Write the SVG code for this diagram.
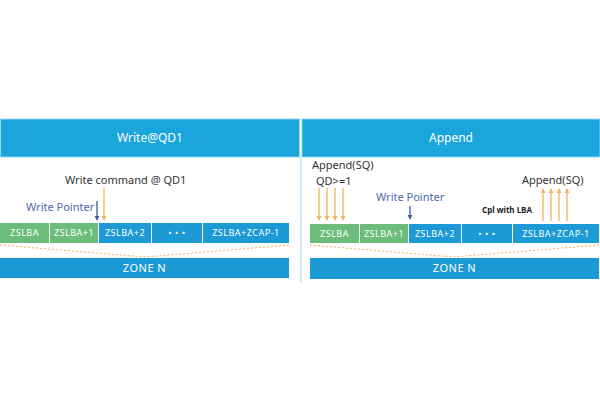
<svg xmlns="http://www.w3.org/2000/svg" width="600" height="400" viewBox="0 0 600 400">
<defs>
<style>
.hdr{fill:#1aa5dc;stroke:#8fd6ef;stroke-width:1}
.ht{font-family:"Noto Sans",sans-serif;font-size:12px;fill:#ffffff;text-anchor:middle}
.g{fill:#6cbd7c}
.b{fill:#1b9ad6}
.bt{font-family:"Noto Sans",sans-serif;font-size:9px;fill:#ffffff;text-anchor:middle;letter-spacing:0.5px}
.zt{font-family:"Noto Sans",sans-serif;font-size:11px;fill:#ffffff;text-anchor:middle;letter-spacing:0.5px}
.lbl{font-family:"Noto Sans",sans-serif;font-size:11px;fill:#333333}
.wp{font-family:"Noto Sans",sans-serif;font-size:11px;fill:#4a6aae}
.cpl{font-family:"Noto Sans",sans-serif;font-size:8px;font-weight:bold;fill:#222222}
.oa{stroke:#f0b45a;stroke-width:1.3;fill:none}
.ba{stroke:#3d5e9e;stroke-width:1.3;fill:none}
.dot{stroke:#f0b45a;stroke-width:1;stroke-dasharray:2 2;fill:none}
.sep{stroke:#bfe3f0;stroke-width:1.5}
</style>
<marker id="mo" viewBox="0 0 6 6" refX="5" refY="3" markerWidth="4" markerHeight="4" orient="auto"><path d="M0,0 L6,3 L0,6 z" fill="#f0b45a"/></marker>
<marker id="mb" viewBox="0 0 6 6" refX="5" refY="3" markerWidth="4" markerHeight="4" orient="auto"><path d="M0,0 L6,3 L0,6 z" fill="#3d5e9e"/></marker>
</defs>
<rect width="600" height="400" fill="#ffffff"/>
<g id="header-left"><rect class="hdr" x="0.5" y="119" width="299" height="38"/><text class="ht" x="150" y="142">Write@QD1</text></g>
<g id="header-right"><rect class="hdr" x="302" y="119" width="298" height="38"/><text class="ht" x="451" y="142">Append</text></g>
<line class="sep" x1="301" y1="157" x2="301" y2="282"/>

<g id="left-blocks">
<g id="l-zslba"><rect class="g" x="0" y="223" width="49" height="20"/><text class="bt" x="24.5" y="236">ZSLBA</text></g>
<g id="l-zslba1"><rect class="g" x="50" y="223" width="48" height="20"/><text class="bt" x="74" y="236">ZSLBA+1</text></g>
<g id="l-zslba2"><rect class="b" x="99" y="223" width="52" height="20"/><text class="bt" x="125" y="236">ZSLBA+2</text></g>
<g id="l-dots"><rect class="b" x="152" y="223" width="50" height="20"/><text class="bt" x="177" y="236">• • •</text></g>
<g id="l-zcap"><rect class="b" x="203" y="223" width="86" height="20"/><text class="bt" x="246" y="236">ZSLBA+ZCAP-1</text></g>
</g>
<g id="l-zone"><rect class="b" x="0" y="258" width="289" height="20"/><text class="zt" x="144.5" y="272">ZONE N</text></g>

<g id="right-blocks">
<g id="r-zslba"><rect class="g" x="310" y="224" width="49" height="19"/><text class="bt" x="334.5" y="237">ZSLBA</text></g>
<g id="r-zslba1"><rect class="g" x="360" y="224" width="48" height="19"/><text class="bt" x="384" y="237">ZSLBA+1</text></g>
<g id="r-zslba2"><rect class="b" x="409" y="224" width="52" height="19"/><text class="bt" x="435" y="237">ZSLBA+2</text></g>
<g id="r-dots"><rect class="b" x="462" y="224" width="50" height="19"/><text class="bt" x="487" y="237">• • •</text></g>
<g id="r-zcap"><rect class="b" x="513" y="224" width="86" height="19"/><text class="bt" x="556" y="237">ZSLBA+ZCAP-1</text></g>
</g>
<g id="r-zone"><rect class="b" x="310" y="258" width="289" height="21"/><text class="zt" x="454.5" y="272">ZONE N</text></g>

<g id="labels">
<text class="lbl" x="65" y="184">Write command @ QD1</text>
<text class="wp" x="26" y="211">Write Pointer</text>
<text class="lbl" x="312" y="169">Append(SQ)</text>
<text class="lbl" x="316" y="184.5">QD&gt;=1</text>
<text class="wp" x="376" y="201">Write Pointer</text>
<text class="cpl" x="482" y="213">Cpl with LBA</text>
<text class="lbl" x="522" y="184">Append(SQ)</text>
</g>

<g id="connectors">
<polyline class="dot" points="0,245 145,257 289,245"/>
<polyline class="dot" points="310,245 454,257 599,245"/>
<line class="ba" x1="97" y1="201" x2="97" y2="220" marker-end="url(#mb)"/>
<line class="oa" x1="104" y1="188" x2="104" y2="220" marker-end="url(#mo)"/>
<line class="oa" x1="319" y1="188" x2="319" y2="220" marker-end="url(#mo)"/>
<line class="oa" x1="327" y1="188" x2="327" y2="220" marker-end="url(#mo)"/>
<line class="oa" x1="335" y1="188" x2="335" y2="220" marker-end="url(#mo)"/>
<line class="oa" x1="343" y1="188" x2="343" y2="220" marker-end="url(#mo)"/>
<line class="ba" x1="410" y1="206" x2="410" y2="219" marker-end="url(#mb)"/>
<line class="oa" x1="543" y1="221" x2="543" y2="189" marker-end="url(#mo)"/>
<line class="oa" x1="551" y1="221" x2="551" y2="189" marker-end="url(#mo)"/>
<line class="oa" x1="559" y1="221" x2="559" y2="189" marker-end="url(#mo)"/>
<line class="oa" x1="567" y1="221" x2="567" y2="189" marker-end="url(#mo)"/>
</g>
</svg>
